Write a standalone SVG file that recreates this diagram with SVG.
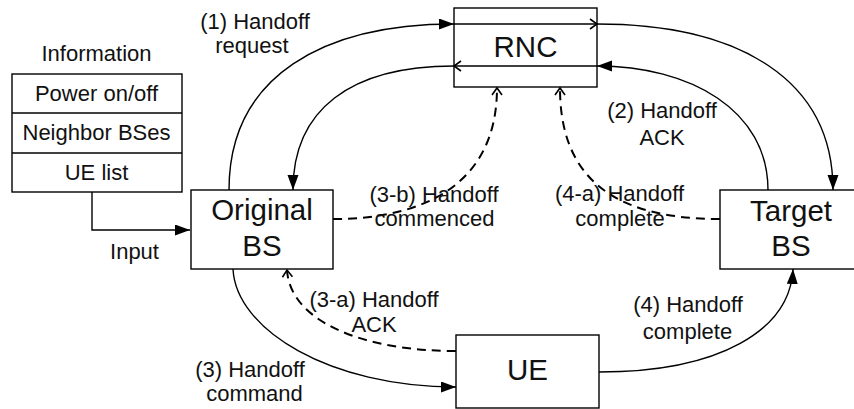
<svg xmlns="http://www.w3.org/2000/svg" width="854" height="409" viewBox="0 0 854 409">
<style>
.box{fill:#fff;stroke:#000;stroke-width:1.4}
.t{font-family:"Liberation Sans",Arial,sans-serif;font-size:22px;fill:#111;text-anchor:middle}
.big{font-family:"Liberation Sans",Arial,sans-serif;font-size:29.5px;fill:#111;text-anchor:middle}
.c{fill:none;stroke:#000;stroke-width:1.4}
.d{fill:none;stroke:#000;stroke-width:2;stroke-dasharray:9,6}
</style>
<defs>
<marker id="fa" markerUnits="userSpaceOnUse" markerWidth="16" markerHeight="12" refX="15" refY="5.5" orient="auto">
<path d="M0,0 L15,5.5 L0,11 z" fill="#000"/>
</marker>
<marker id="oa" markerUnits="userSpaceOnUse" markerWidth="12" markerHeight="14" refX="8" refY="6" orient="auto">
<path d="M1,1 L8,6 L1,11" fill="none" stroke="#000" stroke-width="1.6"/>
</marker>
</defs>
<rect width="854" height="409" fill="#fff"/>

<g id="info">
<text class="t" x="96.5" y="61">Information</text>
<rect class="box" x="12" y="74" width="170" height="118"/>
<line x1="12" y1="113" x2="182" y2="113" stroke="#000" stroke-width="1.4"/>
<line x1="12" y1="153" x2="182" y2="153" stroke="#000" stroke-width="1.4"/>
<text class="t" x="96.5" y="101">Power on/off</text>
<text class="t" x="96.5" y="140">Neighbor BSes</text>
<text class="t" x="96.5" y="180">UE list</text>
</g>

<g id="rnc">
<rect class="box" x="454" y="8" width="143" height="79"/>
<text class="big" x="525.5" y="57">RNC</text>
</g>

<g id="original">
<rect class="box" x="191" y="190" width="142" height="79"/>
<text class="big" x="262" y="220">Original</text>
<text class="big" x="262" y="256">BS</text>
</g>

<g id="target">
<rect class="box" x="720" y="190" width="142" height="79"/>
<text class="big" x="791" y="221">Target</text>
<text class="big" x="791" y="256">BS</text>
</g>

<g id="ue">
<rect class="box" x="456" y="335" width="143" height="73"/>
<text class="big" x="527.5" y="380">UE</text>
</g>

<g id="connectors">
<path class="c" d="M92,192 L92,230 L190,230" stroke-width="2" marker-end="url(#fa)"/>
<path class="c" d="M229,190 C229,75 325,24 454,24" marker-end="url(#fa)"/>
<path class="c" d="M454,24 L597,24" marker-end="url(#oa)"/>
<path class="c" d="M597,24 C740,24 833,80 833,190" marker-end="url(#fa)"/>
<path class="c" d="M768,190 C768,110 690,66 597,66" marker-end="url(#fa)"/>
<path class="c" d="M597,66 L454,66" marker-end="url(#oa)"/>
<path class="c" d="M454,66 C350,66 293,110 293,190" marker-end="url(#fa)"/>
<path class="d" d="M333,219 C430,219 497,180 497,88" marker-end="url(#oa)"/>
<path class="d" d="M720,219 C610,219 560,175 560,88" marker-end="url(#oa)"/>
<path class="c" d="M233,269 C236,330 330,387 456,387" marker-end="url(#fa)"/>
<path class="d" d="M456,351 C360,351 290,320 287,270" marker-end="url(#oa)"/>
<path class="c" d="M599,372 C720,372 790,330 793,269" marker-end="url(#fa)"/>
</g>

<g id="labels">
<text class="t" x="134.5" y="259">Input</text>
<text class="t" x="255" y="29">(1) Handoff</text>
<text class="t" x="252" y="53">request</text>
<text class="t" x="662" y="118">(2) Handoff</text>
<text class="t" x="662" y="145">ACK</text>
<text class="t" x="434" y="202">(3-b) Handoff</text>
<text class="t" x="434.5" y="226">commenced</text>
<text class="t" x="619.5" y="201">(4-a) Handoff</text>
<text class="t" x="620" y="226">complete</text>
<text class="t" x="374" y="307">(3-a) Handoff</text>
<text class="t" x="374" y="332">ACK</text>
<text class="t" x="250" y="377">(3) Handoff</text>
<text class="t" x="254.5" y="401">command</text>
<text class="t" x="688" y="312">(4) Handoff</text>
<text class="t" x="687.5" y="339">complete</text>
</g>
</svg>
